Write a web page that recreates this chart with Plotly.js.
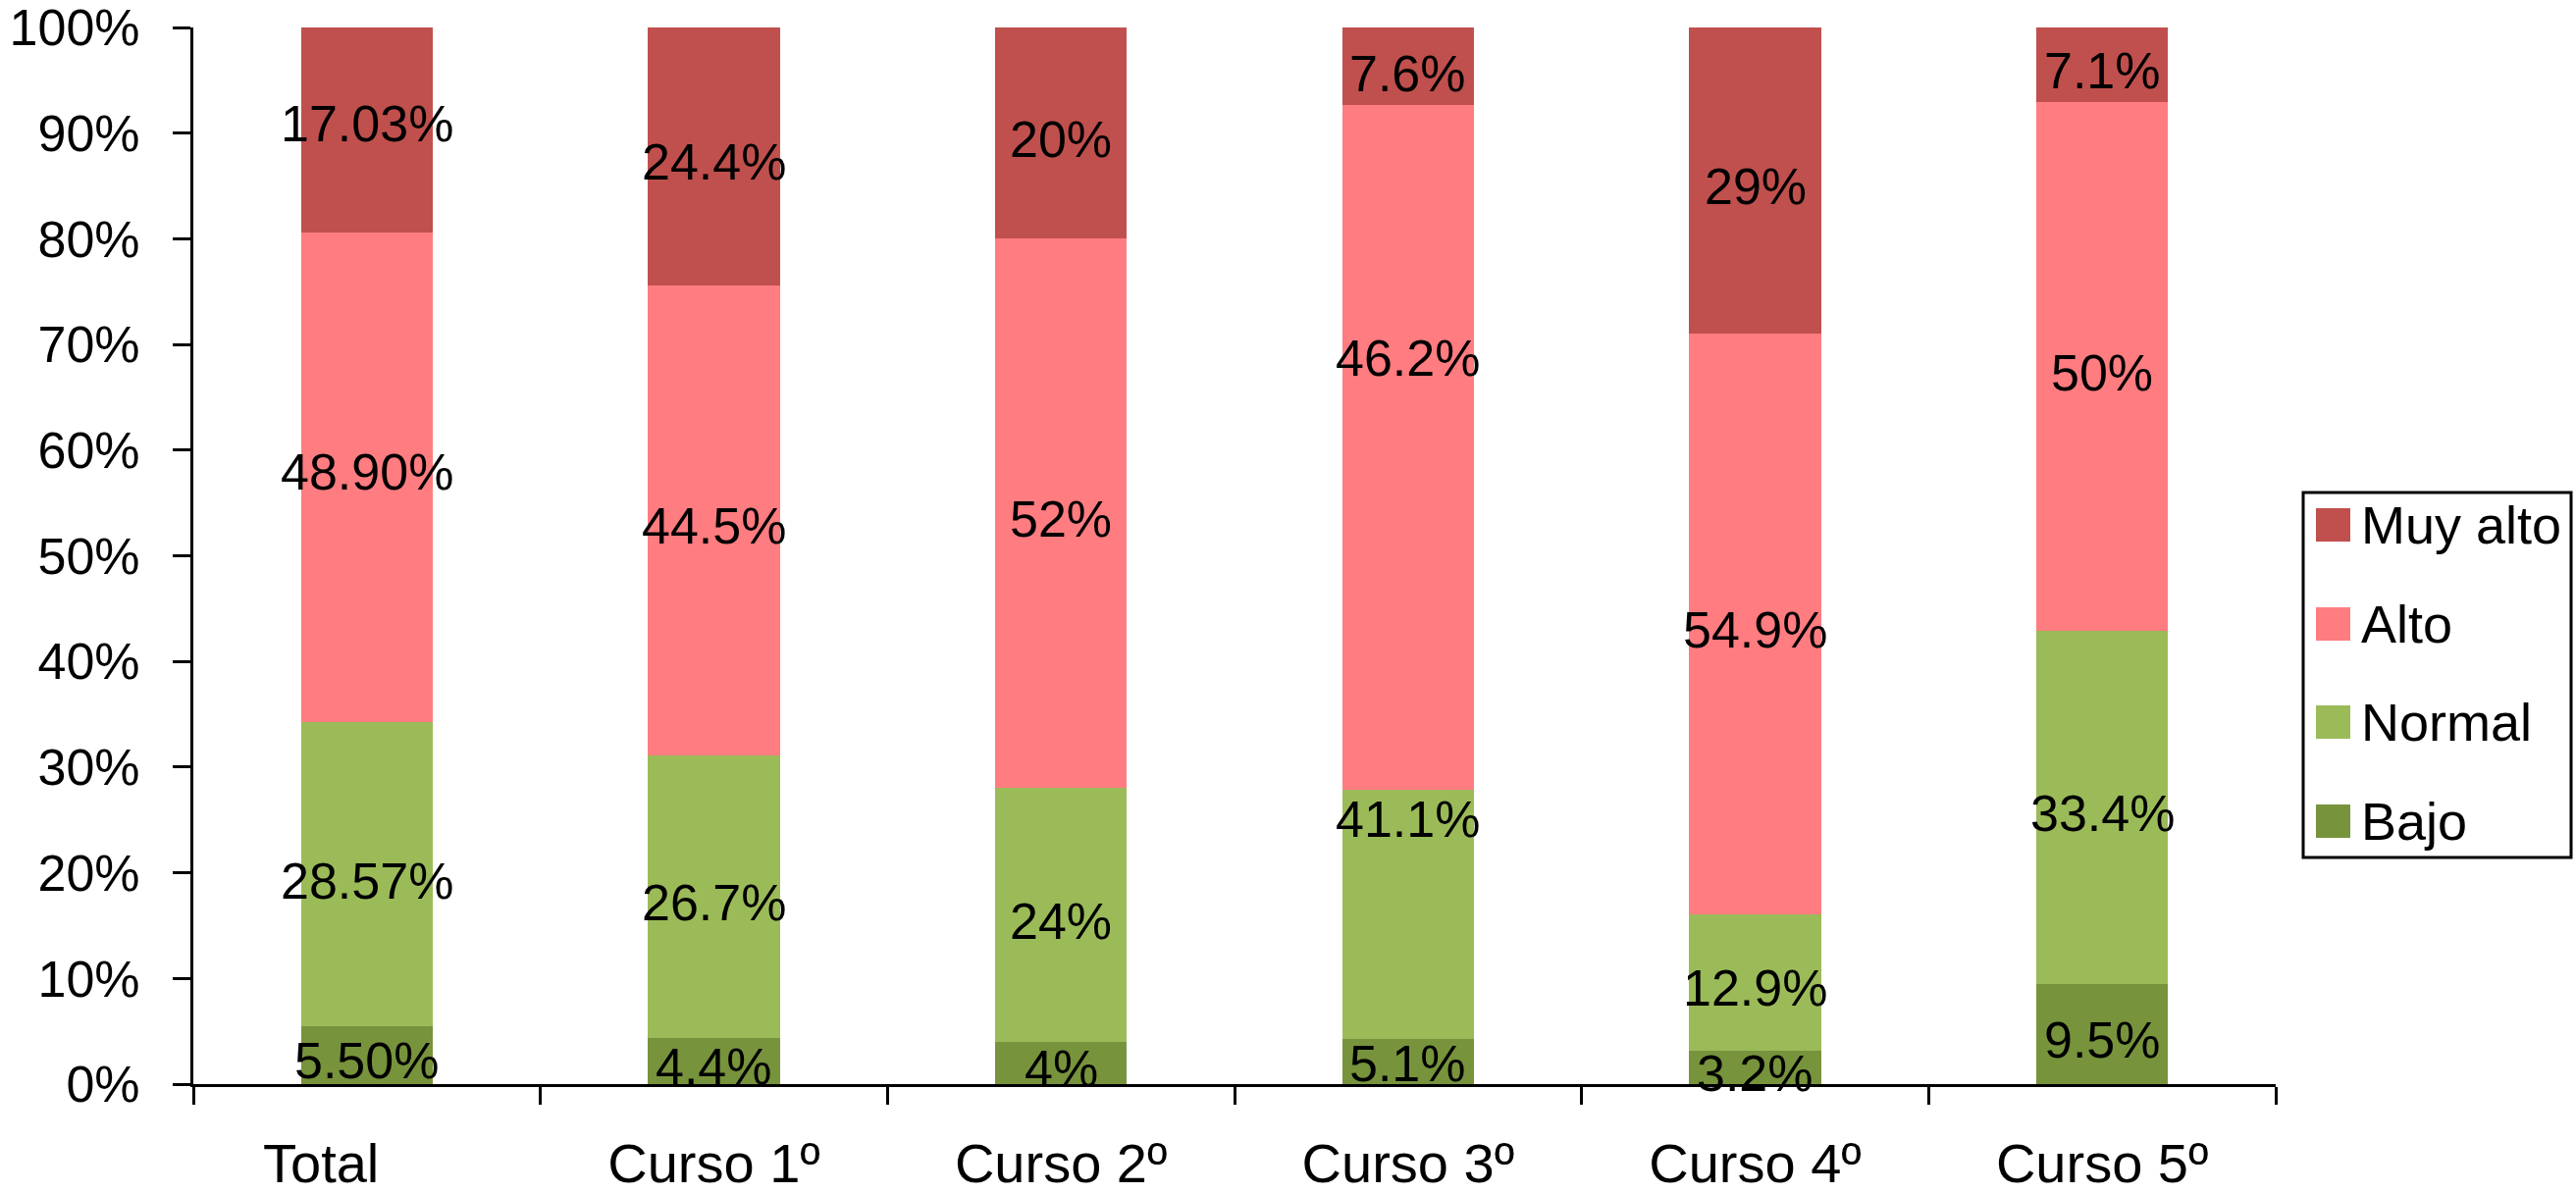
<!DOCTYPE html>
<html>
<head>
<meta charset="utf-8">
<script src="https://cdn.plot.ly/plotly-3.0.1.min.js"></script>
<style>
  html, body { margin: 0; padding: 0; background: #ffffff; }
  #chart { width: 2625px; height: 1216px; }
</style>
</head>
<body>
<div id="chart"></div>
<script>
// ---- Data ----
const categories = ["Total", "Curso 1º", "Curso 2º", "Curso 3º", "Curso 4º", "Curso 5º"];
// x tick labels as printed ("Total" sits left of its bar in the original)
const xTickLabels = ["Total\u00A0\u00A0\u00A0\u00A0\u00A0\u00A0", "Curso 1º", "Curso 2º", "Curso 3º", "Curso 4º", "Curso 5º"];
const seriesNames = ["Bajo", "Normal", "Alto", "Muy alto"];

// Segment heights as drawn (percent of the bar)
const bajo    = [5.5, 4.4, 4.0, 4.3, 3.2, 9.5];
const normal  = [28.8, 26.7, 24.0, 23.6, 12.9, 33.4];
const alto    = [46.3, 44.5, 52.0, 64.8, 54.9, 50.0];
const muyAlto = [19.4, 24.4, 20.0, 7.3, 29.0, 7.1];

// Data labels as printed on the chart
const bajoLabels    = ["5.50%", "4.4%", "4%", "5.1%", "3.2%", "9.5%"];
const normalLabels  = ["28.57%", "26.7%", "24%", "41.1%", "12.9%", "33.4%"];
const altoLabels    = ["48.90%", "44.5%", "52%", "46.2%", "54.9%", "50%"];
const muyAltoLabels = ["17.03%", "24.4%", "20%", "7.6%", "29%", "7.1%"];

const yTickValues = [0, 10, 20, 30, 40, 50, 60, 70, 80, 90, 100];
const yTickLabels = ["0%", "10%", "20%", "30%", "40%", "50%", "60%", "70%", "80%", "90%", "100%"];

const colors = ["#77933C", "#9BBB59", "#FF7C80", "#C0504D"];

// ---- Build traces ----
const FONT = "'Liberation Sans', Arial, Helvetica, sans-serif";
const seriesValues = [bajo, normal, alto, muyAlto];
const seriesLabels = [bajoLabels, normalLabels, altoLabels, muyAltoLabels];

const traces = seriesValues.map((vals, i) => ({
  type: "bar",
  name: seriesNames[i],
  x: categories,
  y: vals,
  marker: { color: colors[i], line: { width: 0 } },
  showlegend: false,
  hoverinfo: "skip"
}));

const annotations = [];
// Data labels: centre of each printed value within the cumulative stack
const cum = categories.map(() => 0);
seriesLabels.forEach((labs) => {
  labs.forEach((t, j) => {
    const v = parseFloat(t);
    annotations.push({
      xref: "x", yref: "y",
      x: j, y: cum[j] + v / 2,
      text: t, showarrow: false,
      xanchor: "center", yanchor: "middle",
      yshift: -6,
      font: { family: FONT, size: 52, color: "#000000" }
    });
    cum[j] += v;
  });
});

// ---- Custom legend (box, swatches, texts) in pixel->paper terms ----
const W = 2625, H = 1216;
const mL = 197, mR = 306, mT = 28, mB = 111;
const pw = W - mL - mR, ph = H - mT - mB;
const px = (x) => (x - mL) / pw;
const py = (y) => (H - mB - y) / ph;

const shapes = [{
  type: "rect", xref: "paper", yref: "paper",
  x0: px(2347), x1: px(2620), y0: py(874), y1: py(502),
  line: { color: "#000000", width: 3 }, fillcolor: "rgba(0,0,0,0)"
}];
const legendOrder = [3, 2, 1, 0];
const rowY = [535, 636, 736, 837];
legendOrder.forEach((si, k) => {
  const cy = rowY[k];
  shapes.push({
    type: "rect", xref: "paper", yref: "paper",
    x0: px(2360), x1: px(2395), y0: py(cy + 17), y1: py(cy - 17),
    line: { width: 0 }, fillcolor: colors[si]
  });
  annotations.push({
    xref: "paper", yref: "paper",
    x: px(2404), y: py(cy),
    xanchor: "left", yanchor: "middle",
    text: seriesNames[si], showarrow: false,
    font: { family: FONT, size: 54, color: "#000000" }
  });
});

const layout = {
  width: W, height: H,
  margin: { l: mL, r: mR, t: mT, b: mB, pad: 0 },
  paper_bgcolor: "#ffffff",
  plot_bgcolor: "#ffffff",
  barmode: "stack",
  bargap: 0.62,
  showlegend: false,
  font: { family: FONT, color: "#000000" },
  xaxis: {
    type: "category",
    range: [-0.5, 5.5],
    tickvals: categories,
    ticktext: xTickLabels,
    tickson: "boundaries",
    ticks: "outside",
    ticklen: 18,
    tickwidth: 3,
    tickcolor: "#000000",
    showline: true,
    linewidth: 3,
    linecolor: "#000000",
    showgrid: false,
    zeroline: false,
    ticklabelstandoff: 30,
    tickfont: { family: FONT, size: 56, color: "#000000" }
  },
  yaxis: {
    range: [0, 100],
    tickvals: yTickValues,
    ticktext: yTickLabels,
    ticks: "outside",
    ticklen: 18,
    tickwidth: 3,
    tickcolor: "#000000",
    showline: true,
    linewidth: 3,
    linecolor: "#000000",
    showgrid: false,
    zeroline: false,
    ticklabeloverflow: "allow",
    ticklabelstandoff: 23,
    tickfont: { family: FONT, size: 52, color: "#000000" }
  },
  shapes: shapes,
  annotations: annotations
};

Plotly.newPlot("chart", traces, layout, { staticPlot: true, displayModeBar: false });
</script>
</body>
</html>
